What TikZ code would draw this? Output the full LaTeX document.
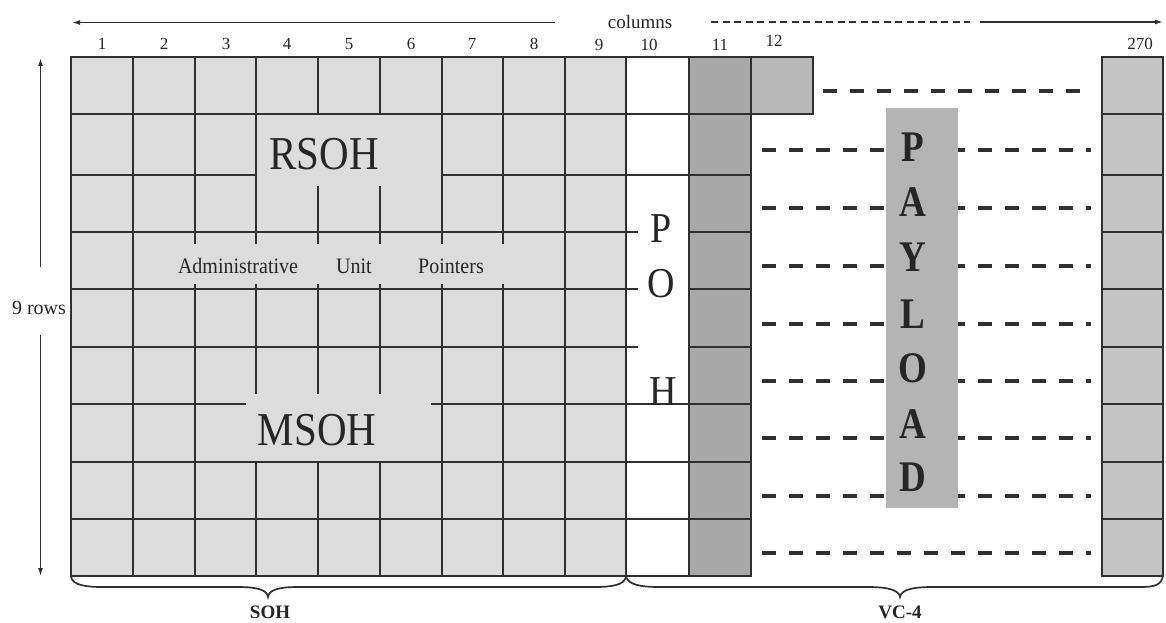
\documentclass[tikz,border=0pt]{standalone}
\usepackage{fontspec}
\setmainfont{Liberation Serif}
\usetikzlibrary{arrows.meta}
\definecolor{linec}{HTML}{303030}
\definecolor{sohfill}{HTML}{DCDCDC}
\definecolor{colB}{HTML}{A9A9A9}
\definecolor{colC}{HTML}{B8B8B8}
\definecolor{colR}{HTML}{C4C4C4}
\definecolor{payfill}{HTML}{B4B4B4}
\begin{document}
\begin{tikzpicture}[x=1pt,y=-1pt,
 gridline/.style={draw=linec,line width=2pt,line cap=rect},
 dashline/.style={draw=linec,line width=4pt,dash pattern=on 14pt off 13pt},
 arr/.style={draw=linec,line width=1.4pt,-{Latex[length=8pt,width=5pt]}},
 lab/.style={inner sep=0pt,anchor=base,text=black!85},
 num/.style={lab,font=\fontsize{17}{19}\selectfont},
 big/.style={lab,font=\fontsize{41}{44}\selectfont},
 poh/.style={lab,font=\fontsize{38}{40}\selectfont},
 pay/.style={lab,font=\bfseries\fontsize{39}{41}\selectfont},
 mid/.style={lab,font=\fontsize{20}{22}\selectfont},
 bot/.style={lab,font=\bfseries\fontsize{19}{21}\selectfont},
 brace/.style={draw=linec,line width=1.7pt},
]
\useasboundingbox (0,0) rectangle (1166,622);
\fill[white] (0,0) rectangle (1166,622);

% fills
\fill[sohfill] (71,57) rectangle (626,576);
\fill[colB] (689,57) rectangle (751,576);
\fill[colC] (751,57) rectangle (813,114);
\fill[colR] (1102,57) rectangle (1163,576);

% dashed payload rows
\foreach \y in {150,208,266,324,381,438,496,553} \draw[dashline] (762,\y) -- (1091,\y);
\draw[dashline] (823,91) -- (1088,91);

% payload box
\node (payload) [fill=payfill, minimum width=72pt, minimum height=400pt, inner sep=0pt] at (922,308) {};

% horizontal grid lines
\foreach \a/\b/\c in {71/813/57, 71/813/114, 71/256/175, 442/751/175,
  71/637/232, 689/751/232, 71/637/289, 689/751/289, 71/637/347, 689/751/347,
  71/245/404, 432/751/404, 71/751/462, 71/751/519, 71/751/576}
  \draw[gridline] (\a,\c) -- (\b,\c);
% vertical grid lines
\foreach \x/\a/\b in {71/57/576, 133/57/576, 195/57/243, 195/285/576,
  256/57/243, 256/285/393, 256/462/576,
  318/57/114, 318/187/243, 318/285/393, 318/462/576,
  380/57/114, 380/187/243, 380/285/393, 380/462/576,
  442/57/243, 442/285/576, 503/57/243, 503/285/576,
  565/57/576, 626/57/576, 689/57/576, 751/57/576, 813/57/114}
  \draw[gridline] (\x,\a) -- (\x,\b);
% right column
\foreach \c in {57,114,175,232,289,347,404,462,519,576}
  \draw[gridline] (1102,\c) -- (1163,\c);
\draw[gridline] (1102,57) -- (1102,576);
\draw[gridline] (1163,57) -- (1163,576);

% column numbers
\foreach \x/\t in {102/1,164/2,226/3,287/4,349/5,411/6,472/7,534/8}
  \node[num] (n\t) at (\x,49) {\t};
\node[num] (n9) at (599,50) {9};
\node[num] (n10) at (649,50) {10};
\node[num] (n11) at (720,50) {11};
\node[num] (n12) at (774,46.7) {12};
\node[num] (n270) at (1140,49) {270};
\node[lab,font=\fontsize{19}{21}\selectfont] (cols) at (640,28) {columns};

% top arrows
\coordinate (tlS) at (555,22.5);
\coordinate (tlE) at (72,22.5);
\draw[arr] (tlS) -- (tlE);
\coordinate (tdS) at (711,22);
\coordinate (tdE) at (970,22);
\draw[draw=linec,line width=1.3pt,dash pattern=on 7pt off 4.5pt] (tdS) -- (tdE);
\coordinate (trS) at (980,22);
\coordinate (trE) at (1163,22);
\draw[arr] (trS) -- (trE);

% rows arrow
\node[mid] (rows) at (39,314) {9 rows};
\coordinate (rTopS) at (40.5,267);
\coordinate (rTopE) at (40.5,58);
\coordinate (rBotS) at (40.5,335);
\coordinate (rBotE) at (40.5,576);
\draw[arr] (rTopS) -- (rTopE);
\draw[arr] (rBotS) -- (rBotE);

% inner labels
\node[big] (rsoh) at (324,169) {\scalebox{1}[1.15]{RSOH}};
\node[big] (msoh) at (317,445) {\scalebox{1}[1.15]{MSOH}};
\node[mid] (adm) at (238,273) {\scalebox{1}[1.1]{Administrative}};
\node[mid] (unit) at (354,273) {\scalebox{1}[1.1]{Unit}};
\node[mid] (ptr) at (451,273) {\scalebox{1}[1.1]{Pointers}};

% POH
\node[poh] (pohP) at (661,242) {\scalebox{1}[1.12]{P}};
\node[poh] (pohO) at (661,297) {\scalebox{1}[1.12]{O}};
\node[poh] (pohH) at (663,405) {\scalebox{1}[1.12]{H}};

% PAYLOAD letters
\foreach \yy/\t/\n in {161.7/P/1,216.7/A/2,271.7/Y/3,328.3/L/4,382/O/5,438.3/A/6,491.7/D/7}
  \node[pay] (pl\n) at (913,\yy) {\scalebox{0.95}[1.12]{\t}};

% braces
\draw[brace] (71,577) .. controls (73,585) and (85,587) .. (103,587) -- (238,587)
  .. controls (258,587) and (267,590) .. (268,597)
  .. controls (269,590) and (278,587) .. (298,587) -- (594,587)
  .. controls (612,587) and (624,585) .. (626,577);
\draw[brace] (626,577) .. controls (629,585) and (641,587) .. (660,587) -- (868,587)
  .. controls (888,587) and (899,590) .. (900,597)
  .. controls (901,590) and (912,587) .. (932,587) -- (1140,587)
  .. controls (1155,587) and (1162,585) .. (1163,575);
\node[bot] (soh) at (270,618) {SOH};
\node[bot] (vc4) at (900,618) {VC-4};
\end{tikzpicture}
\end{document}
